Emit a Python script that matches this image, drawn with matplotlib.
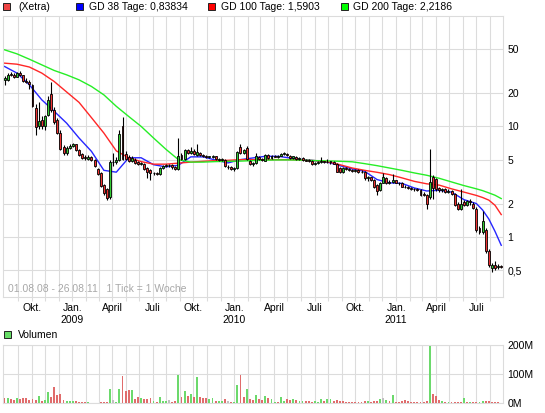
import numpy as np
import pandas as pd
import matplotlib
matplotlib.use("Agg")
import matplotlib.pyplot as plt
import matplotlib.dates as mdates
from matplotlib.patches import Rectangle
from matplotlib.ticker import NullLocator, NullFormatter

plt.rcParams['font.family'] = ['Liberation Sans', 'DejaVu Sans']

W, H = 545, 413

# weekly candles, 01.08.08 - 26.08.11
dates = pd.date_range('2008-08-01', periods=161, freq='7D')

opens = [26.5, 26.5, 30.0, 29.5, 28.3, 30.3, 29.0, 26.0, 25.5, 23.5,
         14.8, 10.0, 11.5, 10.0, 12.8, 19.5, 14.2, 11.5, 8.8, 6.5,
         5.8, 6.4, 6.7, 6.9, 6.1, 5.6, 5.3, 5.1, 5.3, 5.0,
         4.1, 3.8, 2.95, 2.7, 2.3, 4.8, 4.8, 5.0, 10.0, 5.6,
         5.3, 4.9, 5.0, 4.75, 4.6, 4.6, 4.2, 4.0, 3.75, 3.8,
         3.7, 4.2, 4.4, 4.5, 4.5, 4.3, 4.1, 5.5, 5.1, 6.1,
         5.8, 6.0, 5.5, 5.8, 5.5, 5.4, 5.3, 5.3, 5.35, 5.0,
         5.0, 5.0, 4.3, 4.3, 4.1, 4.2, 6.5, 5.7, 6.4, 4.9,
         4.6, 4.7, 5.3, 5.1, 4.9, 5.5, 5.2, 5.4, 5.3, 5.45,
         5.6, 5.65, 5.45, 5.2, 5.3, 5.05, 5.15, 5.0, 4.95, 4.9,
         4.6, 4.7, 4.75, 4.85, 4.75, 4.75, 4.8, 4.6, 4.2, 3.85,
         4.2, 4.1, 4.05, 3.95, 4.0, 3.9, 3.9, 3.4, 3.45, 3.3,
         2.95, 2.65, 3.1, 3.4, 3.1, 3.15, 3.25, 3.1, 3.1, 2.85,
         2.8, 2.75, 2.7, 2.7, 2.65, 2.45, 2.4, 2.3, 3.45, 3.35,
         2.75, 2.65, 2.7, 2.55, 2.6, 2.45, 2.0, 1.8, 2.05, 1.95,
         2.1, 2.0, 1.8, 1.2, 1.1, 1.16, 0.74, 0.52, 0.56, 0.53, 0.54]
highs = [28.5, 30.5, 31.0, 30.5, 31.0, 31.5, 29.5, 27.5, 26.5, 24.0,
         16.0, 16.5, 12.5, 12.8, 19.0, 25.5, 15.0, 12.0, 9.3, 6.8,
         6.6, 7.0, 7.1, 7.0, 6.2, 5.8, 5.5, 5.5, 5.4, 5.1,
         4.2, 3.9, 3.0, 2.75, 5.0, 5.8, 5.3, 9.2, 12.2, 6.0,
         5.5, 5.4, 5.2, 4.9, 4.8, 4.7, 4.3, 4.1, 3.9, 3.9,
         4.3, 4.5, 4.6, 4.6, 4.55, 4.4, 7.9, 5.7, 6.3, 6.3,
         6.5, 6.2, 7.0, 5.9, 5.6, 5.5, 5.45, 5.5, 5.4, 5.2,
         5.15, 5.1, 4.45, 4.35, 4.3, 6.0, 6.9, 6.2, 6.6, 5.0,
         4.8, 5.75, 5.4, 5.2, 5.6, 5.6, 5.5, 5.5, 5.5, 5.8,
         5.9, 5.75, 5.55, 5.45, 5.4, 5.3, 5.3, 5.1, 5.1, 4.95,
         4.8, 4.85, 5.3, 4.9, 5.1, 4.9, 4.85, 4.65, 4.25, 4.3,
         4.3, 4.2, 4.1, 4.1, 4.1, 4.0, 3.95, 3.55, 3.5, 3.35,
         3.0, 3.15, 3.8, 3.5, 3.3, 3.7, 3.3, 3.15, 3.15, 2.95,
         2.9, 2.85, 2.78, 2.75, 2.7, 2.55, 2.45, 6.2, 3.6, 3.4,
         2.8, 2.75, 2.75, 2.7, 2.65, 2.5, 2.05, 2.7, 2.15, 2.15,
         2.2, 2.05, 1.85, 1.25, 1.7, 1.2, 0.78, 0.58, 0.6, 0.57, 0.56]
lows = [23.5, 26.0, 28.5, 27.5, 28.0, 28.5, 25.0, 24.5, 22.0, 15.0,
        8.3, 9.5, 9.4, 9.3, 12.5, 13.5, 10.5, 8.5, 6.1, 5.5,
        5.5, 6.2, 6.5, 6.0, 5.4, 5.1, 5.0, 5.0, 4.9, 4.3,
        3.6, 2.8, 2.4, 2.15, 2.2, 4.4, 4.6, 4.9, 5.0, 5.0,
        4.8, 4.8, 4.6, 4.5, 4.5, 4.0, 3.4, 3.3, 3.6, 3.6,
        3.6, 4.1, 4.3, 4.3, 4.1, 4.0, 4.0, 5.0, 5.0, 5.6,
        5.6, 5.5, 5.4, 5.4, 5.3, 5.2, 5.2, 5.2, 5.0, 4.9,
        4.9, 4.3, 4.1, 4.0, 3.95, 4.1, 5.6, 5.6, 5.0, 4.5,
        4.4, 4.6, 5.0, 4.9, 4.85, 5.1, 5.1, 5.25, 5.2, 5.4,
        5.5, 5.4, 5.1, 5.1, 4.95, 5.0, 4.9, 4.85, 4.8, 4.5,
        4.5, 4.6, 4.7, 4.65, 4.65, 4.6, 4.55, 3.85, 3.75, 3.8,
        4.0, 3.95, 3.85, 3.85, 3.8, 3.75, 3.3, 3.2, 3.2, 2.75,
        2.4, 2.6, 3.05, 3.0, 3.0, 3.1, 3.05, 2.95, 2.8, 2.75,
        2.7, 2.65, 2.6, 2.6, 2.35, 2.35, 1.78, 2.2, 2.2, 2.6,
        2.55, 2.55, 2.5, 2.5, 2.4, 1.9, 1.75, 1.75, 1.9, 1.9,
        1.95, 1.78, 1.1, 1.05, 1.05, 0.72, 0.53, 0.48, 0.5, 0.51, 0.52]
closes = [27.5, 29.5, 29.5, 28.3, 30.5, 29.0, 25.8, 25.5, 24.0, 15.3,
          9.8, 11.3, 10.0, 12.4, 17.4, 14.2, 11.0, 8.8, 6.3, 5.7,
          6.4, 6.7, 6.9, 6.1, 5.5, 5.2, 5.15, 5.3, 5.0, 4.35,
          3.7, 2.87, 2.5, 2.25, 4.8, 4.8, 5.0, 8.6, 5.1, 5.1,
          4.9, 5.2, 4.7, 4.6, 4.7, 4.1, 3.9, 3.75, 3.8, 3.7,
          4.2, 4.4, 4.5, 4.5, 4.3, 4.1, 5.4, 5.1, 6.1, 5.8,
          6.0, 5.6, 5.9, 5.5, 5.35, 5.3, 5.35, 5.4, 5.1, 5.1,
          5.05, 4.4, 4.3, 4.15, 4.2, 5.9, 5.7, 6.1, 5.05, 4.6,
          4.7, 5.35, 5.1, 5.0, 5.5, 5.2, 5.4, 5.3, 5.45, 5.6,
          5.7, 5.5, 5.2, 5.35, 5.05, 5.2, 5.0, 4.9, 4.85, 4.55,
          4.7, 4.75, 4.85, 4.75, 4.8, 4.85, 4.6, 3.9, 3.85, 4.2,
          4.1, 4.05, 3.95, 4.0, 3.9, 3.85, 3.4, 3.45, 3.3, 2.85,
          2.6, 3.1, 3.45, 3.1, 3.15, 3.3, 3.1, 3.05, 2.85, 2.8,
          2.75, 2.7, 2.7, 2.65, 2.4, 2.4, 2.0, 3.15, 2.75, 2.7,
          2.65, 2.7, 2.55, 2.6, 2.45, 1.95, 1.8, 1.98, 1.95, 2.1,
          2.05, 1.82, 1.15, 1.1, 1.4, 0.74, 0.55, 0.55, 0.52, 0.54, 0.53]

# weekly volume in millions, g = up, r = down, n = unchanged
volume = [18, 18, 15, 11, 17, 14, 17, 17, 11, 14,
          11, 24, 8, 10, 38, 21, 55, 28, 31, 10,
          7, 7, 7, 7, 3.5, 3.5, 3.5, 3.5, 1, 1,
          1, 3, 3, 3, 48, 10, 3, 48, 93, 41,
          45, 45, 14, 21, 17, 14, 14, 17, 7, 3,
          21, 7, 7, 10, 3, 7, 97, 21, 41, 24,
          31, 21, 90, 21, 17, 17, 14, 17, 7, 7,
          7, 14, 7, 3, 3, 62, 97, 21, 48, 14,
          10, 28, 14, 10, 24, 17,
          13, 3, 3, 21, 7, 14, 10, 14, 10, 7,
          7, 7, 7, 5, 7, 3, 14, 7, 14, 14,
          7, 10, 7, 7, 3, 3, 3, 3, 3, 3,
          7, 7, 3, 7, 7, 14, 17, 10, 7, 28,
          3, 3, 7, 10, 7, 3, 3, 3, 3, 3,
          7, 198, 31, 24, 10, 7, 3, 3, 3, 3,
          3, 3, 17, 3, 3, 3, 3, 3, 7, 7,
          7, 3, 3, 3, 1]
vol_dir = list("rgrrgrrrrr" "rgrggrrrrr" "gggrrrrgrr" "rrrrgnggrr"
               "rgrrgrrrgr" "gggnrrgrgr" "grgrrrggrg" "grnrggrrgr"
               "rgrrgr" "ggrggrrgrg" "grrrgggrgg" "rrrrrrrrrr"
               "rgrrrgngrg" "rrrrrrrrrr" "rgrrrgrgrr" "rrgrgrrggr" "rrrrg")

# moving averages (daily GD) read at these week indices
ma_weeks = list(range(0, 153, 4)) + [154, 156, 158, 160]
gd38 = [34.9, 30.4, 23.8, 17.4, 13.7, 10.7, 7.85, 5.94, 4.0, 3.85,
        5.2, 5.2, 4.5, 4.3, 4.45, 5.3, 5.3, 4.95, 4.67, 5.0,
        5.18, 5.36, 5.36, 5.18, 5.0, 4.9, 4.75, 4.41, 4.12, 3.92,
        3.30, 3.08, 3.05, 2.77, 2.6, 2.64, 2.54, 2.17, 2.0,
        1.75, 1.45, 1.12, 0.838]
gd100 = [37.4, 36.6, 34.5, 30.4, 25.5, 20.5, 16.5, 12.0, 8.7, 6.0,
         5.2, 4.8, 4.55, 4.55, 4.65, 4.75, 4.83, 4.9, 4.93, 5.0,
         5.0, 5.0, 5.0, 5.0, 4.95, 4.9, 4.8, 4.5, 4.2, 4.0,
         3.84, 3.66, 3.42, 3.18, 3.02, 2.94, 2.72, 2.54, 2.37,
         2.27, 2.15, 1.93, 1.59]
gd200 = [49.4, 45.4, 40.6, 36.1, 32.1, 29.3, 26.4, 23.0, 19.3, 15.2,
         12.3, 10.0, 7.85, 6.2, 5.0, 4.75, 4.75, 4.8, 4.83, 4.85,
         4.9, 4.95, 4.97, 4.97, 4.95, 4.9, 4.87, 4.83, 4.78, 4.6,
         4.41, 4.2, 4.0, 3.79, 3.61, 3.39, 3.14, 2.91, 2.72,
         2.62, 2.5, 2.38, 2.22]

price_ticks = [0.5, 1, 2, 5, 10, 20, 50]
price_labels = ['0,5', '1', '2', '5', '10', '20', '50']
month_names = {1: 'Jan.', 4: 'April', 7: 'Juli', 10: 'Okt.'}

UP, DOWN = '#33cc33', '#ee3333'
VOLCOL = {'g': '#6cd96c', 'r': '#e06c6c', 'n': '#c0c0c0'}
GRID = '#dcdcdc'

fig = plt.figure(figsize=(W / 100, H / 100), dpi=100)
ax = fig.add_axes([3 / W, 1 - 297 / H, 500 / W, 281 / H])
axv = fig.add_axes([3 / W, 1 - 403 / H, 500 / W, 58 / H])

x = mdates.date2num(dates)
o, h, l, c = map(np.array, (opens, highs, lows, closes))
xlim = (mdates.date2num(pd.Timestamp('2008-07-28 12:00')),
        mdates.date2num(pd.Timestamp('2011-08-30')))

# moving averages under the candles
xm = x[ma_weeks]
ax.plot(xm, gd38, color='#2626ff', lw=1.0, zorder=2)
ax.plot(xm, gd100, color='#ff2626', lw=1.0, zorder=2)
ax.plot(xm, gd200, color='#26ee26', lw=1.0, zorder=2)

# candles
bw = 4.4
ax.vlines(x, l, h, color='black', lw=0.8, zorder=3)
up = c > o
dn = c < o
fl = c == o
ax.bar(x[up], c[up] - o[up], bottom=o[up], width=bw, color=UP,
       edgecolor='black', linewidth=0.6, zorder=4)
ax.bar(x[dn], o[dn] - c[dn], bottom=c[dn], width=bw, color=DOWN,
       edgecolor='black', linewidth=0.6, zorder=4)
ax.hlines(c[fl], x[fl] - bw / 2, x[fl] + bw / 2, color='black', lw=0.8, zorder=4)

ax.set_yscale('log')
ax.set_ylim(0.285, 100)
ax.set_xlim(*xlim)

# volume
axv.bar(x, volume, width=4.2, color=[VOLCOL[d] for d in vol_dir], zorder=3)
axv.set_ylim(0, 200)
axv.set_xlim(*xlim)

months = pd.date_range('2008-09-01', '2011-08-01', freq='MS')
mx = mdates.date2num(months)
mlabels = []
for m in months:
    name = month_names.get(m.month, '')
    if m.month == 1:
        name = name + '\n' + str(m.year)
    mlabels.append(name)

for a in (ax, axv):
    for s in a.spines.values():
        s.set_color(GRID)
        s.set_linewidth(0.8)
    a.set_xticks(mx)
    a.grid(True, color=GRID, lw=0.8, zorder=0)
    a.set_axisbelow(True)
    a.yaxis.tick_right()
    a.tick_params(axis='y', length=0, pad=3, labelsize=7.5, colors='black')

ax.set_xticklabels(mlabels)
ax.tick_params(axis='x', length=3, color=GRID, pad=1.5, labelsize=7.5)
ax.yaxis.set_minor_locator(NullLocator())
ax.yaxis.set_minor_formatter(NullFormatter())
ax.set_yticks(price_ticks)
ax.set_yticklabels(price_labels)

axv.set_xticklabels([])
axv.tick_params(axis='x', length=0)
axv.set_yticks([0, 100, 200])
axv.set_yticklabels(['0M', '100M', '200M'])


def fx(px):
    return px / W


def fy(py):
    return 1 - py / H


def legend_box(px, py, color):
    fig.patches.append(Rectangle((fx(px), fy(py + 7)), 7 / W, 7 / H,
                                 transform=fig.transFigure, facecolor=color,
                                 edgecolor='#222222', linewidth=0.7))


legend_box(3, 3, '#ee4444')
fig.text(fx(18), fy(7), '(Xetra)', fontsize=7.5, va='center')
legend_box(76, 3, '#0000ff')
fig.text(fx(89), fy(7), 'GD 38 Tage: 0,83834', fontsize=7.5, va='center')
legend_box(208, 3, '#ff0000')
fig.text(fx(221), fy(7), 'GD 100 Tage: 1,5903', fontsize=7.5, va='center')
legend_box(341, 3, '#00ff00')
fig.text(fx(353), fy(7), 'GD 200 Tage: 2,2186', fontsize=7.5, va='center')

legend_box(4, 331, '#66dd66')
fig.text(fx(18), fy(335), 'Volumen', fontsize=7.5, va='center')

fig.text(fx(8), fy(289), '01.08.08 - 26.08.11   1 Tick = 1 Woche',
         fontsize=7.5, color='#a8a8a8', va='center')

fig.savefig('out.png', dpi=100)
